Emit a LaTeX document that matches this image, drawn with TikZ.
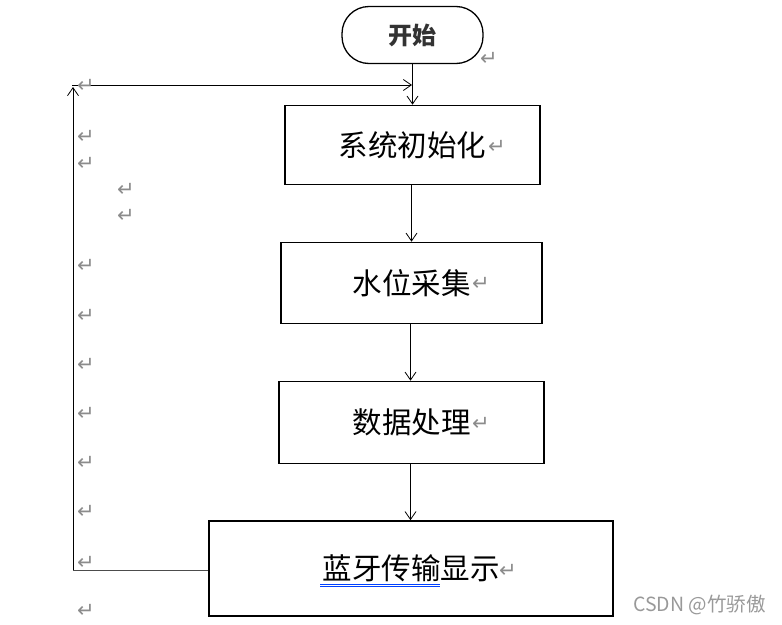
\documentclass[tikz,border=0pt]{standalone}
\usepackage{fontspec}
\setmainfont{Liberation Sans}
\newfontfamily\cjk{Noto Sans CJK SC}
\newfontfamily\sym{DejaVu Sans}
\usetikzlibrary{arrows.meta}
\begin{document}
\begin{tikzpicture}[x=1pt,y=-1pt,
  box/.style={draw, line width=1.6pt, inner sep=0pt, font=\cjk\fontsize{29.5}{29.5}\selectfont},
  arr/.style={-{Straight Barb[length=8pt,width=11pt]}, line width=0.8pt},
  ret/.style={font=\sym\fontsize{21}{21}\selectfont, text=black!45, inner sep=0pt}]
\useasboundingbox (0,0) rectangle (782,624);
% nodes
\node[draw, line width=1.3pt, rounded corners=27pt, minimum width=141pt, minimum height=57pt,
      inner sep=0pt, font=\cjk\bfseries\fontsize{24}{24}\selectfont, text=black!80] (start) at (412.5,35) {开始};
\node[box, minimum width=255pt, minimum height=79pt] (b1) at (412.5,145) {系统初始化};
\node[box, minimum width=261pt, minimum height=81pt] (b2) at (411.5,283) {水位采集};
\node[box, minimum width=265pt, minimum height=82pt] (b3) at (411.5,422.5) {数据处理};
\node[box, minimum width=404pt, minimum height=95pt] (b4) at (411,568.5) {蓝牙传输显示};
% underline
\draw[blue!75!cyan, line width=0.6pt] (320,584) -- (440,584);
\draw[blue!75!cyan, line width=0.6pt] (320,586.5) -- (440,586.5);
% connectors
\draw[arr] (start.south) -- (b1.north);
\draw[arr] (b1.south -| 411.5,0) -- (b2.north -| 411.5,0);
\draw[arr] (b2.south -| 410.5,0) -- (b3.north -| 410.5,0);
\draw[arr] (b3.south -| 410.5,0) -- (b4.north -| 410.5,0);
\coordinate (lb) at (73,570);
\coordinate (lt) at (73,87);
\coordinate (hl) at (72,85);
\coordinate (hr) at (412,85);
\draw[line width=0.8pt, black!70] (b4.west |- lb) -- (lb);
\draw[arr] (lb) -- (lt);
\draw[arr] (hl) -- (hr);
% paragraph marks
\node[ret] (r0) at (489,59) {↵};
\node[ret] (r1) at (497,147) {↵};
\node[ret] (r2) at (481,284) {↵};
\node[ret] (r3) at (481,424) {↵};
\node[ret] (r4) at (508,571) {↵};
\node[ret] (m1) at (86,86) {↵};
\node[ret] (m2) at (86,137) {↵};
\node[ret] (m3) at (86,164) {↵};
\node[ret] (m4) at (126,190) {↵};
\node[ret] (m5) at (126,216) {↵};
\node[ret] (m6) at (86,266) {↵};
\node[ret] (m7) at (86,316) {↵};
\node[ret] (m8) at (86,365) {↵};
\node[ret] (m9) at (86,414) {↵};
\node[ret] (m10) at (86,463) {↵};
\node[ret] (m11) at (86,512) {↵};
\node[ret] (m12) at (86,563) {↵};
\node[ret] (m13) at (86,611) {↵};
% watermark
\node[font=\cjk\fontsize{19.5}{19.5}\selectfont, text=black!40, anchor=east, inner sep=0pt] (wm) at (766,605) {CSDN @竹骄傲};
\end{tikzpicture}
\end{document}
